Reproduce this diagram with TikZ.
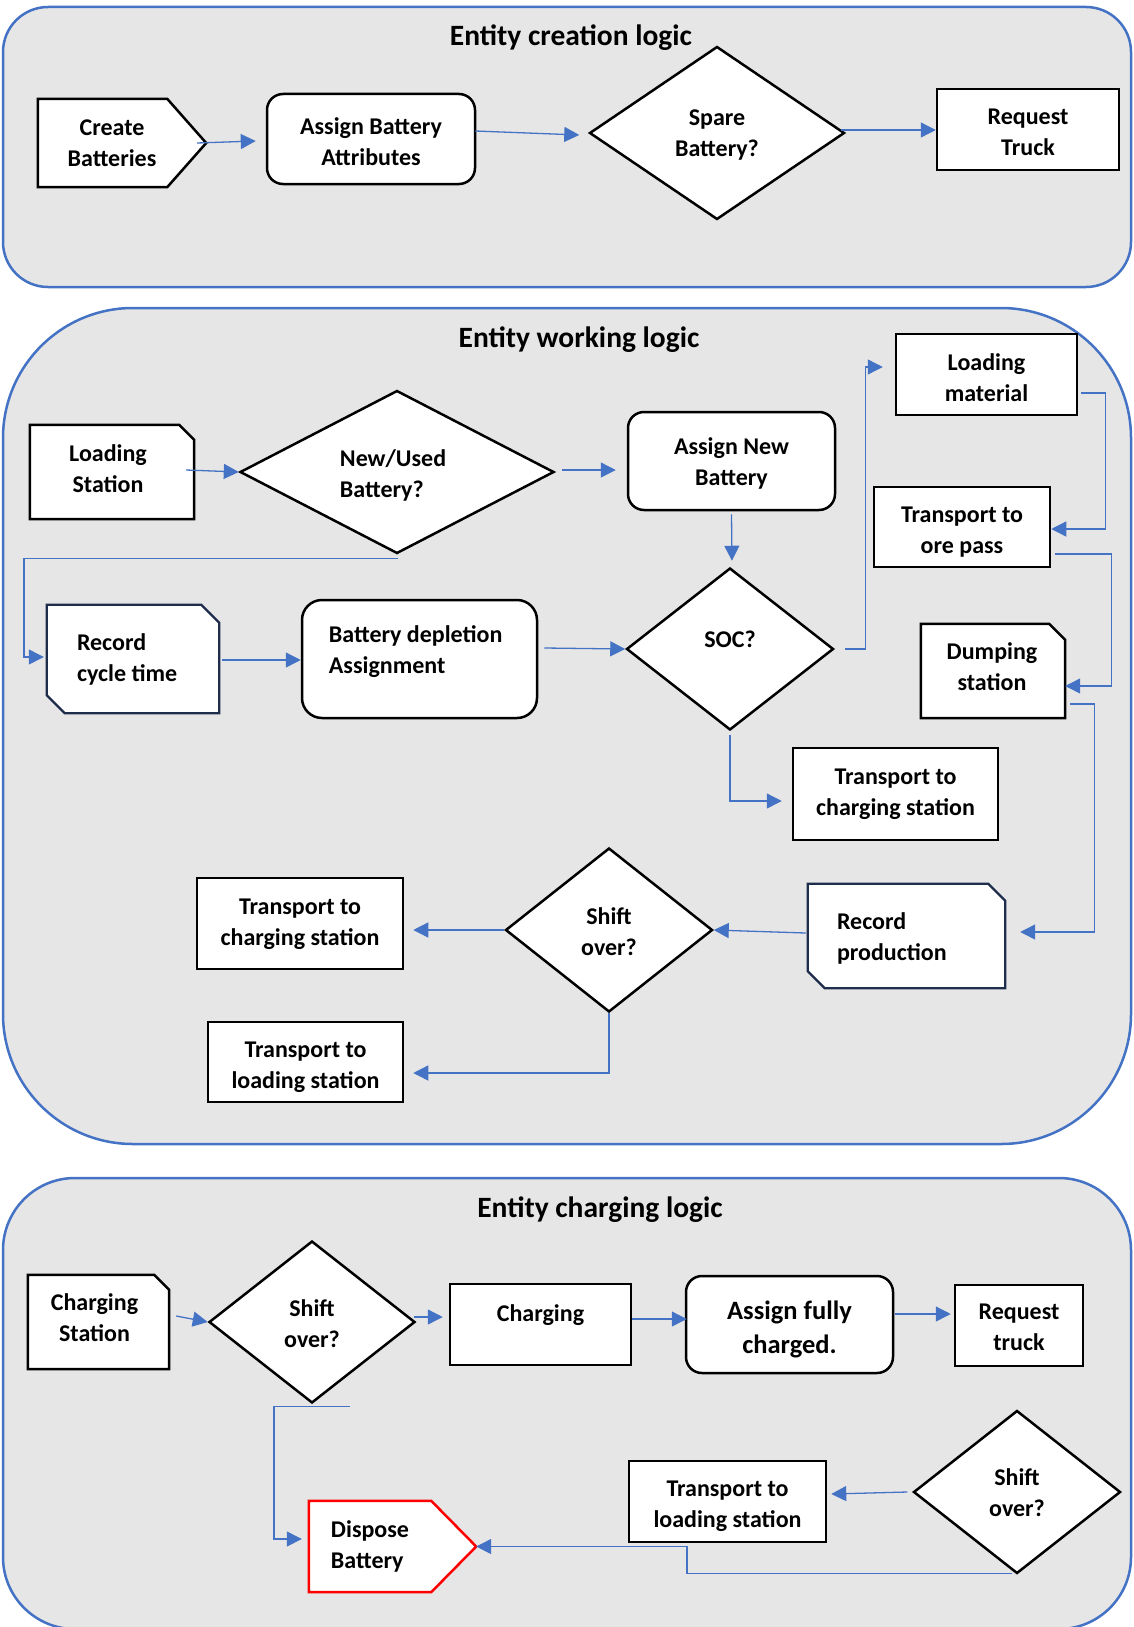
\documentclass[tikz,border=0pt]{standalone}
\usepackage{fontspec}
\setmainfont{Carlito}
\usetikzlibrary{arrows.meta,shapes.geometric,calc}
\pgfdeclarelayer{bg}
\pgfdeclarelayer{mid}
\pgfsetlayers{bg,mid,main}
\definecolor{wblue}{RGB}{68,114,196}
\definecolor{pgray}{RGB}{231,230,230}
\definecolor{navy}{RGB}{31,45,77}
\definecolor{wred}{RGB}{255,0,0}
\begin{document}
\begin{tikzpicture}[x=1pt,y=-1pt,
  font=\bfseries\fontsize{24}{31}\selectfont,
  panel/.style={draw=wblue, line width=2.5pt, fill=pgray},
  box/.style={draw=black, line width=2.5pt, fill=white, align=center, inner sep=0pt},
  rbox/.style={box, rounded corners=16pt},
  dia/.style={box, diamond, shape aspect=1},
  txt/.style={align=center, inner sep=0pt},
  shp/.style={draw=black, line width=2.5pt, fill=white},
  navyshp/.style={draw=navy, line width=2.3pt, fill=white},
  redshp/.style={draw=wred, line width=2.5pt, fill=white},
  arr/.style={draw=wblue, line width=1.3pt, -{Triangle[length=15pt,width=15pt]}},
  ttl/.style={font=\bfseries\fontsize{29.5}{35}\selectfont, anchor=base, inner sep=0pt}
]
\useasboundingbox (0,0) rectangle (1134,1627);

\begin{pgfonlayer}{bg}
  \draw[panel, rounded corners=45pt] (3,7) rectangle (1131,287);
  \draw[panel, rounded corners=130pt] (3,308) rectangle (1131,1144);
  \draw[panel, rounded corners=72pt] (3,1178) rectangle (1131,1629);
\end{pgfonlayer}

% titles
\node[ttl] (t1) at (571,46) {Entity creation logic};
\node[ttl] (t2) at (579,347) {Entity working logic};
\node[ttl] (t3) at (600,1217) {Entity charging logic};

% ---------- creation ----------
\node[txt, minimum width=148pt, minimum height=88pt] (create) at (112,143) {Create\\Batteries};
\node[rbox, minimum width=208pt, minimum height=90pt] (attr) at (371,139) {};
\node[txt] (attrT) at ($(attr)+(0,3)$) {Assign Battery\\Attributes};
\node[dia, minimum width=255pt, minimum height=173pt] (spare) at (717,133) {};
\node[txt] (spareT) at ($(spare)+(0,2)$) {Spare\\Battery?};
\node[box, minimum width=182pt, minimum height=81pt] (reqT) at (1028,129.5) {};
\node[txt] (reqTT) at ($(reqT)+(0,3)$) {Request\\Truck};

% ---------- working ----------
\node[txt, minimum width=164pt, minimum height=94pt] (loadSt) at (112,472) {};
\node[txt] (loadStT) at ($(loadSt)+(-4,-3)$) {Loading\\Station};
\node[dia, minimum width=314pt, minimum height=163pt] (newUsed) at (397,472) {};
\node[txt, align=left, anchor=west] (newUsedT) at ($(newUsed.west)+(101,3.5)$) {New/Used\\Battery?};
\node[rbox, minimum width=207pt, minimum height=98pt] (assignNew) at (731.5,461) {};
\node[txt] (assignNewT) at ($(assignNew)+(0,2)$) {Assign New\\Battery};
\node[dia, minimum width=207pt, minimum height=162pt] (soc) at (730,649) {};
\node[txt] (socT) at ($(soc)+(0,-10)$) {SOC?};
\node[box, minimum width=181pt, minimum height=81pt] (loadMat) at (986.5,374.5) {};
\node[txt] (loadMatT) at ($(loadMat)+(0,3)$) {Loading\\material};
\node[box, minimum width=176pt, minimum height=80pt] (orePass) at (962,527) {};
\node[txt] (orePassT) at ($(orePass)+(0,5)$) {Transport to\\ore pass};
\node[txt, minimum width=144pt, minimum height=94pt] (dump) at (993,671) {};
\node[txt] (dumpT) at ($(dump)+(-1,-4)$) {Dumping\\station};
\node[txt, minimum width=172pt, minimum height=108pt] (recCycle) at (133,659) {};
\node[txt, align=left, anchor=west] (recCycleT) at ($(recCycle.west)+(30,0.5)$) {Record\\cycle time};
\node[rbox, rounded corners=20pt, minimum width=235pt, minimum height=118pt] (depl) at (419.5,659) {};
\node[txt, align=left, anchor=west] (deplT) at ($(depl.west)+(28,-7)$) {Battery depletion\\Assignment};
\node[box, minimum width=205pt, minimum height=92pt] (chgUp) at (895.5,794) {Transport to\\charging station};
\node[txt, minimum width=197pt, minimum height=104pt] (recProd) at (906.5,936) {};
\node[txt, align=left, anchor=west] (recProdT) at ($(recProd.west)+(29,2)$) {Record\\production};
\node[dia, minimum width=207pt, minimum height=164pt] (shiftM) at (609,930) {};
\node[txt] (shiftMT) at ($(shiftM)+(0,2)$) {Shift\\over?};
\node[box, minimum width=206pt, minimum height=91pt] (chgL) at (300,923.5) {};
\node[txt] (chgLT) at ($(chgL)+(0,1)$) {Transport to\\charging station};
\node[box, minimum width=195pt, minimum height=80pt] (loadL) at (305.5,1062) {};
\node[txt] (loadLT) at ($(loadL)+(0,5)$) {Transport to\\loading station};

% ---------- charging ----------
\node[txt, minimum width=141pt, minimum height=94pt] (chgSt) at (98.5,1322) {};
\node[txt] (chgStT) at ($(chgSt)+(-4,-4)$) {Charging\\Station};
\node[dia, minimum width=206pt, minimum height=162pt] (shiftA) at (312,1322) {};
\node[txt] (shiftAT) at ($(shiftA)+(0,2)$) {Shift\\over?};
\node[box, minimum width=181pt, minimum height=81pt] (charging) at (540.5,1324.5) {};
\node[txt] (chargingT) at ($(charging)+(0,-9)$) {Charging};
\node[rbox, minimum width=207pt, minimum height=97pt] (fully) at (789.5,1324.5) {};
\node[txt, font=\bfseries\fontsize{26.5}{34}\selectfont] (fullyT) at ($(fully)+(0,5)$) {Assign fully\\charged.};
\node[box, minimum width=128pt, minimum height=81pt] (reqTr) at (1019,1325.5) {};
\node[txt] (reqTrT) at ($(reqTr)+(0,2)$) {Request\\truck};
\node[dia, minimum width=207pt, minimum height=163pt] (shiftB) at (1017,1492) {};
\node[txt] (shiftBT) at ($(shiftB)+(0,1)$) {Shift\\over?};
\node[box, minimum width=197pt, minimum height=81pt] (loadC) at (727.5,1501.5) {};
\node[txt] (loadCT) at ($(loadC)+(0,5)$) {Transport to\\loading station};
\node[txt, align=left, minimum width=122pt, minimum height=91pt] (dispose) at (370,1546.5) {Dispose\\Battery};
\coordinate (dispTip) at ($(dispose.east)+(45,0)$);

% ---------- custom outlines ----------
\begin{pgfonlayer}{mid}
  \draw[shp] (create.north west) -- ($(create.north east)+(-19,0)$) -- ($(create.east)+(20,0)$)
     -- ($(create.south east)+(-19,0)$) -- (create.south west) -- cycle;
  \draw[shp] (loadSt.south west) -- (loadSt.north west) -- ($(loadSt.north east)+(-15,0)$)
     -- ($(loadSt.north east)+(0,15)$) -- (loadSt.south east) -- cycle;
  \draw[shp] (dump.south west) -- (dump.north west) -- ($(dump.north east)+(-16,0)$)
     -- ($(dump.north east)+(0,16)$) -- (dump.south east) -- cycle;
  \draw[shp] (chgSt.south west) -- (chgSt.north west) -- ($(chgSt.north east)+(-15,0)$)
     -- ($(chgSt.north east)+(0,15)$) -- (chgSt.south east) -- cycle;
  \draw[navyshp] (recCycle.north west) -- ($(recCycle.north east)+(-18,0)$) -- ($(recCycle.north east)+(0,18)$)
     -- (recCycle.south east) -- ($(recCycle.south west)+(18,0)$) -- ($(recCycle.south west)+(0,-18)$) -- cycle;
  \draw[navyshp] (recProd.north west) -- ($(recProd.north east)+(-17,0)$) -- ($(recProd.north east)+(0,17)$)
     -- (recProd.south east) -- ($(recProd.south west)+(17,0)$) -- ($(recProd.south west)+(0,-17)$) -- cycle;
  \draw[redshp] (dispose.north west) -- (dispose.north east) -- (dispTip)
     -- (dispose.south east) -- (dispose.south west) -- cycle;
\end{pgfonlayer}

% ---------- connectors ----------
\draw[arr] ($(create.east)+(11,0)$) -- ($(attr.west)+(-10,2)$);
\draw[arr] ($(attr.east)+(-1,-8)$) -- ($(spare.west)+(-9,2)$);
\draw[arr] ($(spare.east)+(-5,-3)$) -- ($(spare.east -| reqT.west)+(0,-3)$);

\draw[arr] ($(loadSt.east)+(-8,-2)$) -- (newUsed.west);
\draw[arr] ($(newUsed.east)+(7,-2)$) -- ($(newUsed.east -| assignNew.west)+(-11,-2)$);
\draw[arr] ($(assignNew.south)+(0,3)$) -- ($(soc.north)+(2,-6)$);
\draw[arr] ($(newUsed.south)+(1,4)$) -- ++(-374,0) |- ($(recCycle.west)+(-3,-2)$);
\draw[arr] ($(recCycle.east)+(3,1)$) -- ($(depl.west)+(0,1)$);
\draw[arr] ($(depl.east)+(6,-11)$) -- (soc.west);
\draw[arr] ($(soc.east)+(10,0)$) -- ++(21,0) |- ($(loadMat.west)+(-12,-7.5)$);
\draw[arr] ($(loadMat.east)+(3,18.5)$) -- ++(24,0) |- ($(orePass.east)+(0,2)$);
\draw[arr] ($(orePass.east)+(4,27)$) -- ++(56,0) |- ($(dump.east)+(0,15)$);
\draw[arr] ($(dump.east)+(5,33)$) -- ++(24,0) |- ($(recProd.east)+(15,-4)$);
\draw[arr] ($(soc.south)+(0,4)$) |- ($(chgUp.west)+(-10,7)$);
\draw[arr] ($(recProd.west)+(-2,-3)$) -- (shiftM.east);
\draw[arr] (shiftM.west) -- ($(shiftM.west -| chgL.east)+(9,0)$);
\draw[arr] (shiftM.south) |- ($(loadL.east)+(9,11)$);

\draw[arr] ($(chgSt.east)+(7,-6)$) -- (shiftA.west);
\draw[arr] ($(shiftA.east)+(-2,-5)$) -- ($(shiftA.east -| charging.west)+(-6,-5)$);
\draw[arr] ($(charging.east)+(0,-5.5)$) -- ($(charging.east -| fully.west)+(2,-5.5)$);
\draw[arr] ($(fully.east)+(1,-10.5)$) -- ($(fully.east -| reqTr.west)+(-3,-10.5)$);
\draw[arr] ($(shiftB.west)+(-5,0)$) -- ($(loadC.east)+(4,-7.5)$);
\draw[arr] ($(shiftB.south)+(-5,-1)$) -- ++(-325,0) |- (dispTip);
\draw[arr] ($(shiftA.south)+(38,2)$) -- ++(-76,0) |- ($(dispose.west)+(-7,-7.5)$);
\end{tikzpicture}
\end{document}
